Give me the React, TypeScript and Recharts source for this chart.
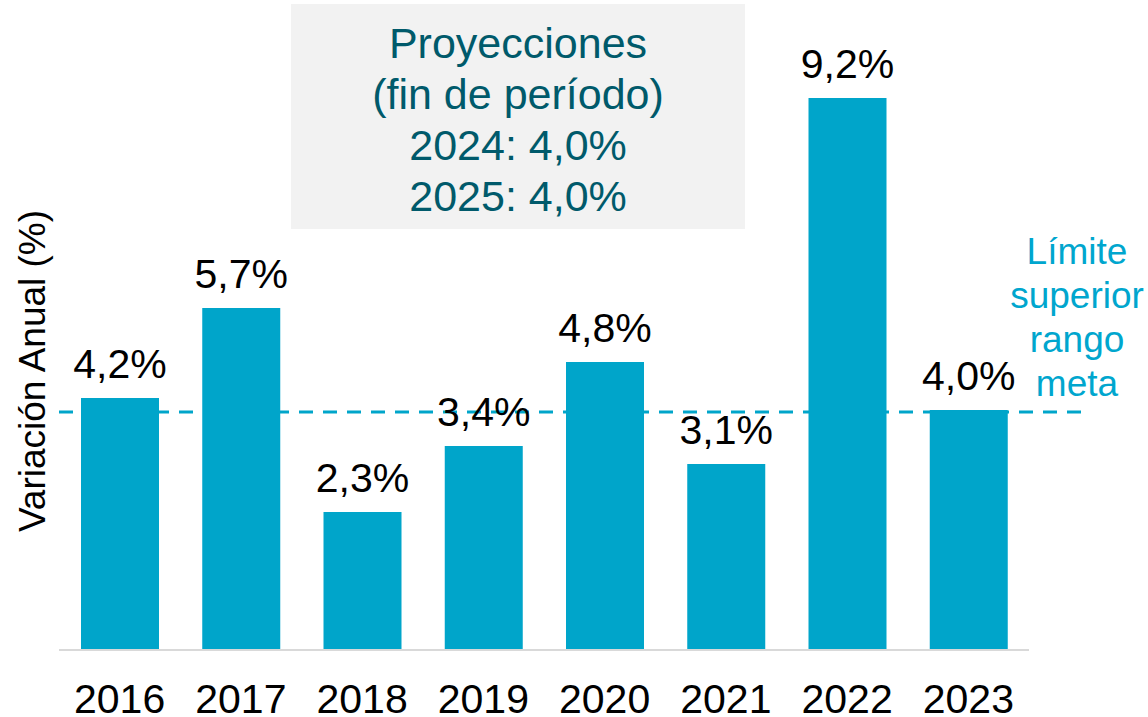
import { BarChart, Bar, XAxis, YAxis, ReferenceLine, LabelList } from 'recharts';

const years = ['2016', '2017', '2018', '2019', '2020', '2021', '2022', '2023'];
const inflation = [4.2, 5.7, 2.3, 3.4, 4.8, 3.1, 9.2, 4.0];
const targetCeiling = 4.0;
const boxLines = ['Proyecciones', '(fin de período)', '2024: 4,0%', '2025: 4,0%'];
const limitLines = ['Límite', 'superior', 'rango', 'meta'];

const data = years.map((year, i) => ({ year, value: inflation[i] }));

const FONT = '"Liberation Sans", Arial, sans-serif';
const BAR = '#00A5CA';

const fmt = (v: number) => v.toFixed(1).replace('.', ',') + '%';

// dashed line runs a bit past the last bar, up to the side note
const ExtendedLine = (props: any) => {
    const { x1, y1, x2, y2 } = props;
    return (
        <line
            x1={x1}
            y1={y1 + 2}
            x2={x2 + 58}
            y2={y2 + 2}
            stroke={BAR}
            strokeWidth={3}
            strokeDasharray="14 10"
        />
    );
};

export default function App() {
    return (
        <div style={{ position: 'absolute', left: 0, top: 0, width: 1148, height: 717, fontFamily: FONT, background: '#fff' }}>
            <BarChart
                width={1148}
                height={717}
                data={data}
                margin={{ top: 50, right: 119, left: 59, bottom: 0 }}
                barCategoryGap={0}
            >
                <XAxis
                    dataKey="year"
                    height={67}
                    tickLine={false}
                    tickSize={0}
                    tickMargin={34}
                    stroke="#D9D9D9"
                    strokeWidth={2}
                    tick={{ fill: '#000', fontSize: 41, fontFamily: FONT }}
                    interval={0}
                />
                <YAxis hide width={0} domain={[0, 10]} />
                <Bar dataKey="value" fill={BAR} barSize={78} isAnimationActive={false}>
                    <LabelList
                        dataKey="value"
                        position="top"
                        offset={20}
                        formatter={(v: any) => fmt(Number(v))}
                        style={{ fill: '#000', fontSize: 41, fontFamily: FONT }}
                    />
                </Bar>
                <ReferenceLine y={targetCeiling} shape={<ExtendedLine />} />
            </BarChart>

            <div
                style={{
                    position: 'absolute',
                    left: 291,
                    top: 4,
                    width: 454,
                    height: 225,
                    background: '#F2F2F2',
                    boxSizing: 'border-box',
                    paddingTop: 14,
                    textAlign: 'center',
                    color: '#005A6B',
                    fontSize: 43,
                    lineHeight: '51px',
                }}
            >
                {boxLines.map((t) => (
                    <div key={t}>{t}</div>
                ))}
            </div>

            <div
                style={{
                    position: 'absolute',
                    left: 997,
                    top: 230,
                    width: 160,
                    textAlign: 'center',
                    color: '#00A6CE',
                    fontSize: 37,
                    lineHeight: '44px',
                }}
            >
                {limitLines.map((t) => (
                    <div key={t}>{t}</div>
                ))}
            </div>

            <div
                style={{
                    position: 'absolute',
                    left: 33,
                    top: 371,
                    transform: 'translate(-50%, -50%) rotate(-90deg)',
                    whiteSpace: 'nowrap',
                    fontSize: 37,
                    color: '#000',
                }}
            >
                Variación Anual (%)
            </div>
        </div>
    );
}
